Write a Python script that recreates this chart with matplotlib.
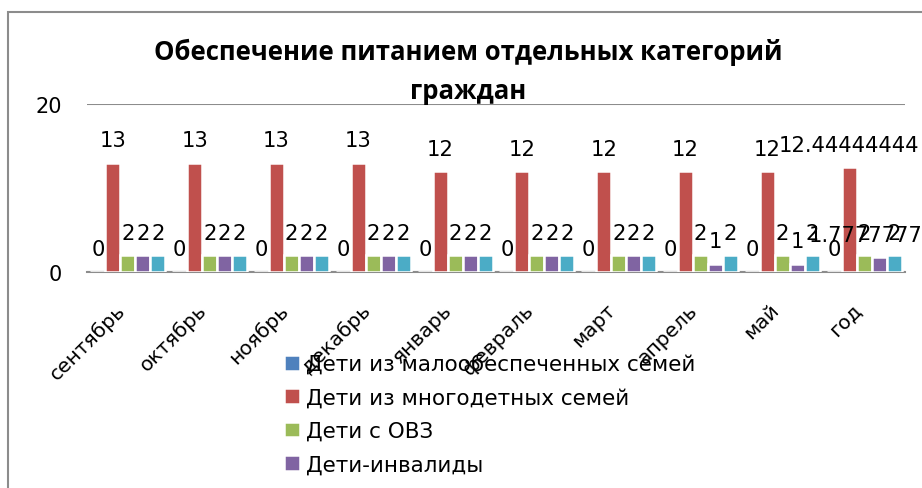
import matplotlib
matplotlib.use("Agg")
import matplotlib.pyplot as plt
import matplotlib.transforms as mtransforms
import numpy as np
from matplotlib.patches import Rectangle

categories = ["сентябрь", "октябрь", "ноябрь", "декабрь", "январь",
              "февраль", "март", "апрель", "май", "год"]
series_names = ["Дети из малообеспеченных семей", "Дети из многодетных семей",
                "Дети с ОВЗ", "Дети-инвалиды", None]
low_income = [0, 0, 0, 0, 0, 0, 0, 0, 0, 0]
large_family = [13, 13, 13, 13, 12, 12, 12, 12, 12, 12.44444444]
ovz = [2, 2, 2, 2, 2, 2, 2, 2, 2, 2]
disabled = [2, 2, 2, 2, 2, 2, 2, 1, 1, 1.777777778]
fifth = [2, 2, 2, 2, 2, 2, 2, 2, 2, 2]
y_ticks = [0, 20]

colors = ["#4F81BD", "#C0504D", "#9BBB59", "#8064A2", "#4BACC6"]
data = [low_income, large_family, ovz, disabled, fifth]

plt.rcParams['font.family'] = ['DejaVu Sans']
fig = plt.figure(figsize=(9.22, 4.89), dpi=100)
fig.patches.append(Rectangle((8/922, -0.1), 1.0, 1 - 13/489 + 0.1, transform=fig.transFigure,
                             fill=False, edgecolor="#8c8c8c", linewidth=1.5))
ax = fig.add_axes([87/922, 1 - 273/489, (905 - 87)/922, (273 - 105)/489])

x = np.arange(len(categories))
w = 0.183
for i, (vals, c) in enumerate(zip(data, colors)):
    pos = x + (i - 2) * w
    ax.bar(pos, vals, width=w, color=c, edgecolor="white", linewidth=1.8,
           label=series_names[i] if series_names[i] else "_nolegend_", zorder=3)
    for xb, v in zip(pos, vals):
        ax.annotate(f"{v:.10g}", (xb, v), xytext=(0, 9), textcoords="offset points",
                    ha="center", va="bottom", fontsize=15.2, color="black", zorder=5,
                    annotation_clip=False)

ax.set_ylim(0, 20)
ax.set_xlim(-0.5, len(categories) - 0.5)
ax.set_yticks(y_ticks)
ax.set_yticklabels([str(t) for t in y_ticks], fontsize=15)
ax.yaxis.grid(True, color="#8c8c8c", linewidth=1.5, zorder=0)
ax.tick_params(axis="y", length=0, pad=18)
ax.tick_params(axis="x", length=0, pad=25)
for s in ["left", "right", "top"]:
    ax.spines[s].set_visible(False)
ax.spines["bottom"].set_color("#8c8c8c")
ax.spines["bottom"].set_linewidth(1.5)
ax.set_xticks(x)
ax.set_xticklabels(categories, rotation=45, ha="right", va="center",
                   rotation_mode="anchor", fontsize=14.5)
shift = mtransforms.ScaledTranslation(-6/100, 0, fig.dpi_scale_trans)
for lab in ax.get_xticklabels():
    lab.set_transform(lab.get_transform() + shift)
ax.set_facecolor("none")

fig.text(468/922, 1 - 52/489, "Обеспечение питанием отдельных категорий",
         ha="center", va="center", fontsize=18.5, fontweight="bold", family="Open Sans")
fig.text(468/922, 1 - 92/489, "граждан",
         ha="center", va="center", fontsize=18.5, fontweight="bold", family="Open Sans")

handles, labels = ax.get_legend_handles_labels()
leg = fig.legend(handles, labels, loc="upper left", bbox_to_anchor=(269/922, 1 - 340/489),
                 frameon=False, fontsize=15.5, handlelength=0.75, handleheight=0.75,
                 handletextpad=0.25, labelspacing=0.62, borderpad=0.2)

fig.savefig("out.png", dpi=100)
